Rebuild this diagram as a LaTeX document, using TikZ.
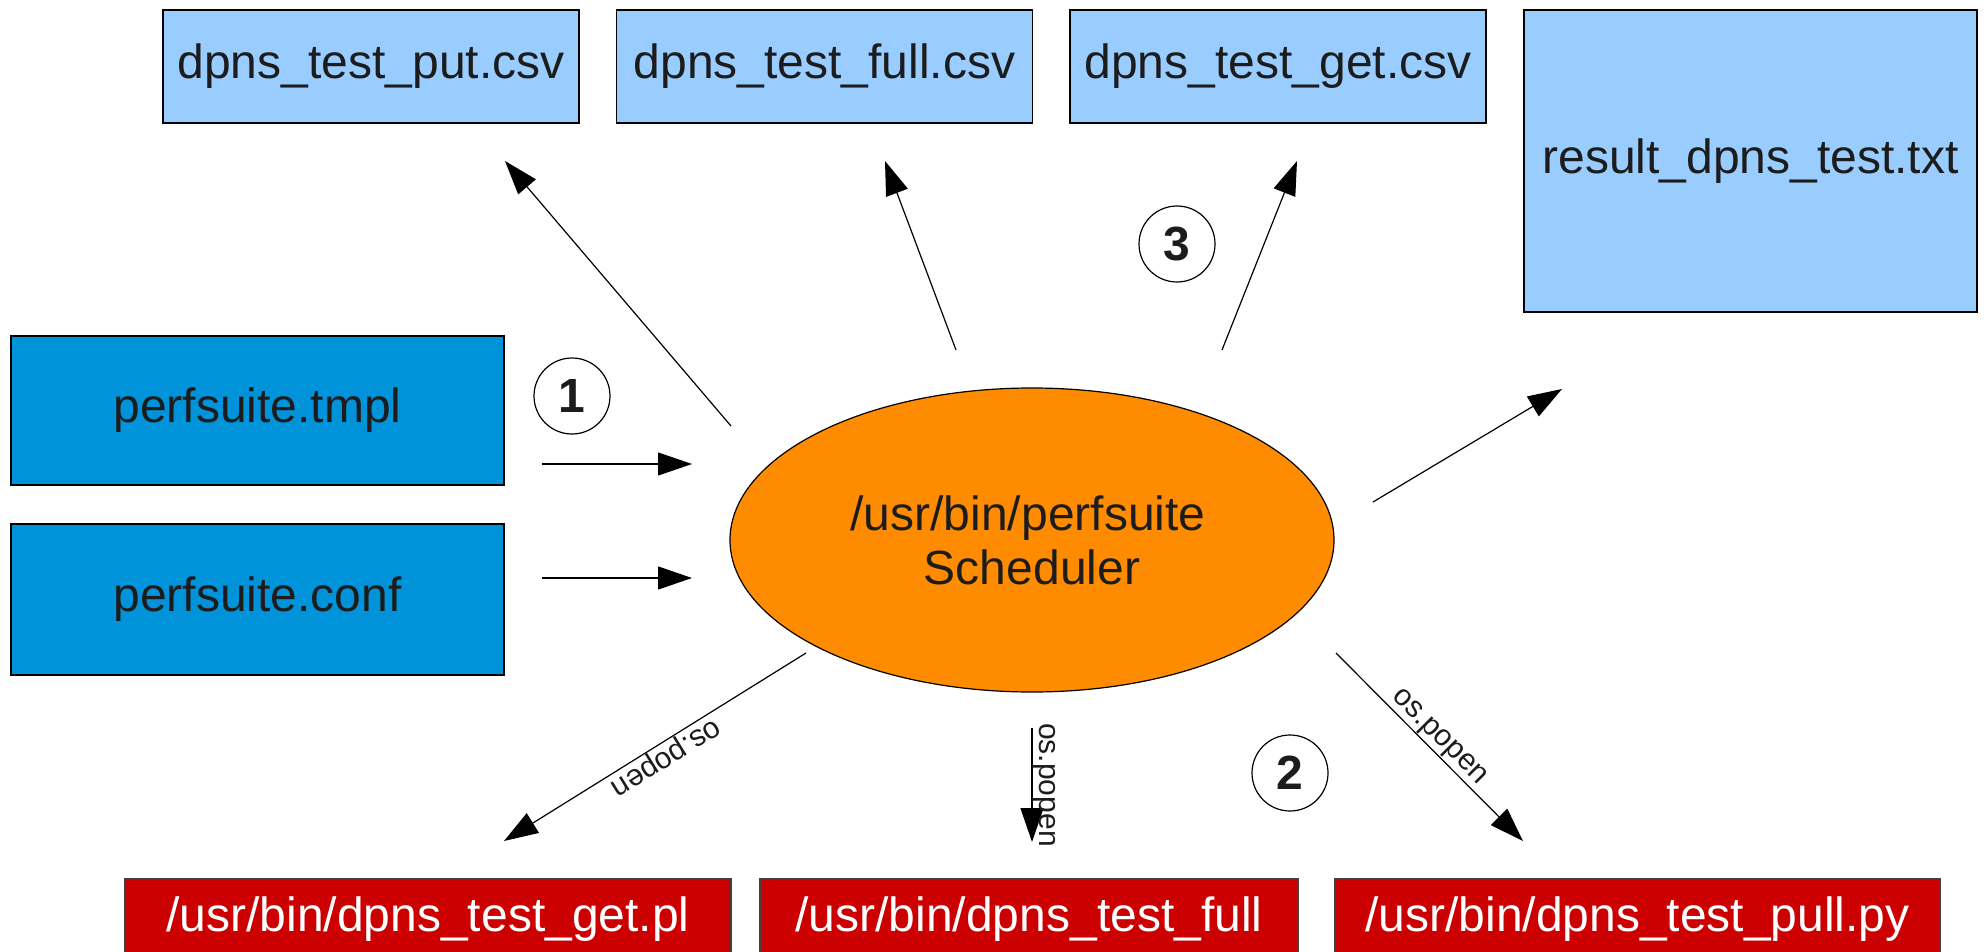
\documentclass[tikz,border=0pt]{standalone}
\usepackage{fontspec}
\setmainfont{Liberation Sans}
\usetikzlibrary{arrows.meta,shapes.geometric}

\definecolor{lightblue}{HTML}{99CCFF}
\definecolor{deepblue}{HTML}{0093DA}
\definecolor{orangefill}{HTML}{FF8C00}
\definecolor{redfill}{HTML}{CC0000}
\definecolor{ink}{HTML}{1C1C1C}

\tikzset{
  bigtext/.style={font=\fontsize{24}{27}\selectfont},
  filebox/.style={rectangle, draw=black, line width=0.7pt, fill=lightblue,
    text=ink, bigtext, inner sep=0pt},
  inbox/.style={filebox, fill=deepblue},
  progbox/.style={rectangle, draw=black!75, line width=0.7pt, fill=redfill,
    text=white, bigtext, inner sep=0pt, minimum height=40pt},
  flow/.style={draw=black, line width=0.6pt,
    -{Triangle[length=17pt,width=11.5pt]}},
  badge/.style={circle, draw=black, line width=0.6pt, fill=white,
    minimum size=38pt, inner sep=0pt, text=ink,
    font=\bfseries\fontsize{24}{27}\selectfont},
  calllabel/.style={font=\fontsize{15}{18}\selectfont, text=ink,
    inner sep=0.5pt, anchor=south}
}

\begin{document}
\begin{tikzpicture}[x=0.5pt, y=-0.5pt]
  \useasboundingbox (0,0) rectangle (1986,952);
  \clip (0,0) rectangle (1986,952);

  % output files
  \node[filebox, minimum width=208pt, minimum height=56.5pt] (putcsv)  at (371,66.5)  {dpns\_test\_put.csv};
  \node[filebox, minimum width=208pt, minimum height=56.5pt] (fullcsv) at (824.5,66.5) {dpns\_test\_full.csv};
  \node[filebox, minimum width=208pt, minimum height=56.5pt] (getcsv)  at (1278,66.5) {dpns\_test\_get.csv};
  \node[filebox, minimum width=226.5pt, minimum height=151pt] (result) at (1750.5,161) {result\_dpns\_test.txt};

  % inputs
  \node[inbox, minimum width=246.5pt, minimum height=74.5pt] (tmpl) at (257.5,410.5) {perfsuite.tmpl};
  \node[inbox, minimum width=246.5pt, minimum height=75.5pt] (conf) at (257.5,599.5) {perfsuite.conf};

  % scheduler
  \node[ellipse, draw=black, line width=0.6pt, fill=orangefill, text=ink, bigtext,
        minimum width=302pt, minimum height=152pt, inner sep=0pt, align=center]
        (sched) at (1032,540) {/usr/bin/perfsuite\hspace*{4pt}\\Scheduler};

  % test programs
  \node[progbox, minimum width=303pt] (getpl)  at (428,919)    {/usr/bin/dpns\_test\_get.pl};
  \node[progbox, minimum width=269pt] (fullpr) at (1029,919)   {/usr/bin/dpns\_test\_full};
  \node[progbox, minimum width=302.5pt] (pullpy) at (1637.5,919) {/usr/bin/dpns\_test\_pull.py};

  % step markers
  \node[badge] (s1) at (572,396)  {1};
  \node[badge] (s2) at (1290,773) {2};
  \node[badge] (s3) at (1177,244) {3};

  % connector end points
  \coordinate (putA)  at (731,426);  \coordinate (putB)  at (505,161);
  \coordinate (fullA) at (956,350);  \coordinate (fullB) at (885,161);
  \coordinate (getA)  at (1222,350); \coordinate (getB)  at (1297,161);
  \coordinate (resA)  at (1373,502); \coordinate (resB)  at (1562,389);
  \coordinate (tmplA) at (542,464);  \coordinate (tmplB) at (692,464);
  \coordinate (confA) at (542,578);  \coordinate (confB) at (692,578);
  \coordinate (plA)   at (806,653);  \coordinate (plB)   at (504,841);
  \coordinate (fuA)   at (1032,728); \coordinate (fuB)   at (1032,842);
  \coordinate (pyA)   at (1336,653); \coordinate (pyB)   at (1523,841);

  % data flow
  \draw[flow] (tmplA) -- (tmplB);
  \draw[flow] (confA) -- (confB);
  \draw[flow] (putA)  -- (putB);
  \draw[flow] (fullA) -- (fullB);
  \draw[flow] (getA)  -- (getB);
  \draw[flow] (resA)  -- (resB);

  % program calls
  \draw[flow] (plA) -- node[calllabel, pos=0.49, rotate=211.9] {os.popen} (plB);
  \draw[flow] (fuA) -- node[calllabel, pos=0.5, rotate=-90] {os.popen} (fuB);
  \draw[flow] (pyA) -- node[calllabel, pos=0.5, rotate=-45.2] {os.popen} (pyB);
\end{tikzpicture}
\end{document}
